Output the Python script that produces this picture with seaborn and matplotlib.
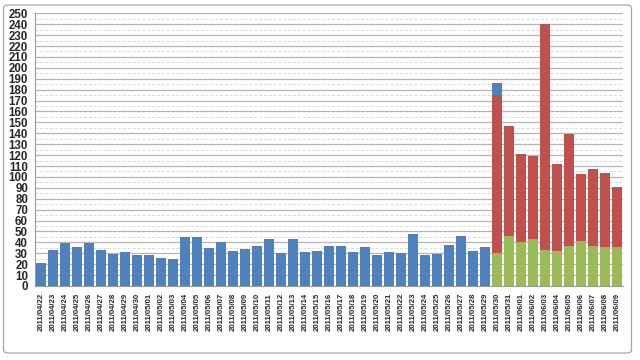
import matplotlib
matplotlib.use("Agg")
import matplotlib.pyplot as plt
import seaborn as sns
import pandas as pd
import numpy as np
from matplotlib.patches import FancyBboxPatch
from matplotlib.ticker import MultipleLocator, FixedLocator

dates = (["2011/04/%02d" % d for d in range(22, 31)]
         + ["2011/05/%02d" % d for d in range(1, 32)]
         + ["2011/06/%02d" % d for d in range(1, 10)])

blue = [21, 33, 39, 36, 39, 33, 29, 31, 28,
        28, 26, 25, 45, 45, 35, 40, 32, 34, 37, 43, 30, 43, 31, 32, 37, 37,
        31, 36, 28, 31, 30, 48, 28, 29, 38, 46, 32, 36,
        11, 0, 0, 0, 0, 0, 0, 0, 0, 0, 0]
red = [0] * 38 + [145, 101, 81, 76, 207, 80, 102, 62, 70, 68, 55]
green = [0] * 38 + [30, 46, 40, 43, 33, 32, 37, 41, 37, 36, 36]

C_BLUE = "#4F81BD"
C_RED = "#C0504D"
C_GREEN = "#9BBB59"

df = pd.DataFrame({"date": dates, "blue": blue, "red": red, "green": green})
df["lvl_green"] = df["green"]
df["lvl_red"] = df["green"] + df["red"]
df["lvl_blue"] = df["lvl_red"] + df["blue"]

sns.set_theme(style="white")
plt.rcParams["font.family"] = ["Liberation Sans", "DejaVu Sans"]

fig = plt.figure(figsize=(6.4, 3.6), dpi=100)
ax = fig.add_axes([35 / 640, 1 - 286 / 360, (623 - 35) / 640, (286 - 13.3) / 360])

for col, c in [("lvl_blue", C_BLUE), ("lvl_red", C_RED), ("lvl_green", C_GREEN)]:
    sns.barplot(data=df, x="date", y=col, color=c, ax=ax, width=0.8,
                saturation=1, edgecolor="none", linewidth=0, zorder=3)

ax.set_ylim(0, 250)
ax.set_xlim(-0.5, len(dates) - 0.5)
ax.set_xlabel("")
ax.set_ylabel("")

ax.yaxis.set_major_locator(MultipleLocator(10))
ax.yaxis.set_minor_locator(MultipleLocator(5))
ax.grid(axis="y", which="major", color="#B4B4B4", linewidth=0.9, zorder=0)
ax.grid(axis="y", which="minor", color="#DADADA", linewidth=0.7,
        linestyle=(0, (3, 2)), zorder=0)
ax.grid(axis="x", visible=False)
ax.set_axisbelow(True)

for s in ["top", "right"]:
    ax.spines[s].set_visible(False)
ax.spines["left"].set_color("#9A9A9A")
ax.spines["bottom"].set_color("#9A9A9A")
ax.spines["left"].set_linewidth(0.8)
ax.spines["bottom"].set_linewidth(0.8)

ax.tick_params(axis="y", which="major", length=3, color="#9A9A9A", width=0.8,
               pad=2, labelsize=8.3)
ax.tick_params(axis="y", which="minor", length=0)
for t in ax.get_yticklabels():
    t.set_fontweight("bold")

ax.set_xticks(range(len(dates)))
ax.set_xticklabels(dates, rotation=90, fontsize=5.6, fontweight="bold")
ax.tick_params(axis="x", which="major", length=0, pad=5)
ax.xaxis.set_minor_locator(FixedLocator(np.arange(-0.5, len(dates), 1.0)))
ax.tick_params(axis="x", which="minor", length=3, color="#9A9A9A", width=0.8)

border = FancyBboxPatch((3.5 / 640, 7 / 360), 628 / 640, 348 / 360,
                        boxstyle="round,pad=0,rounding_size=0.008",
                        transform=fig.transFigure, fill=False,
                        edgecolor="#A6A6A6", linewidth=0.9)
fig.patches.append(border)

fig.savefig("out.png", dpi=100)
